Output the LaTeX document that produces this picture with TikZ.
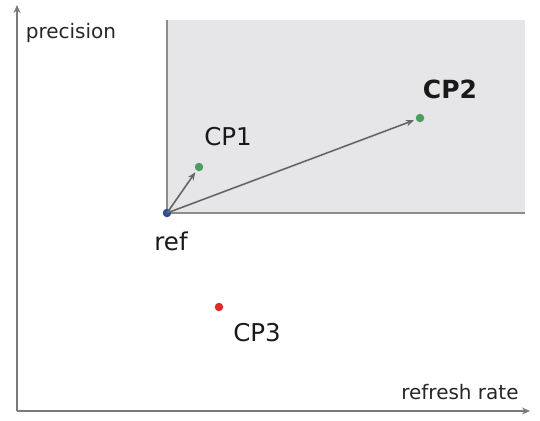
\documentclass[tikz,border=0pt]{standalone}
\usepackage{fontspec}
\setmainfont{DejaVu Sans}
\usetikzlibrary{arrows.meta}
\definecolor{axisgray}{HTML}{7A7A7A}
\definecolor{boxfill}{HTML}{E6E6E8}
\definecolor{boxedge}{HTML}{8C8C8C}
\definecolor{arrgray}{HTML}{666666}
\definecolor{dotblue}{HTML}{2B4C9B}
\definecolor{dotgreen}{HTML}{4C9E5E}
\definecolor{dotred}{HTML}{DD2A2A}
\tikzset{
  axisline/.style={draw=axisgray, line width=1.7pt, -{Stealth[length=8pt,width=7pt]}},
  vecline/.style={draw=arrgray, line width=1.6pt, -{Stealth[length=8pt,width=6.5pt]}, shorten >=2pt},
  dotnode/.style={circle, inner sep=0pt, minimum size=8.5pt},
  axlabel/.style={font=\fontsize{20}{22}\selectfont, text=black!85, inner sep=0pt},
  ptlabel/.style={font=\fontsize{24.5}{26}\selectfont, text=black!90, inner sep=0pt}
}
\begin{document}
\begin{tikzpicture}[x=1pt,y=-1pt]
\useasboundingbox (0,0) rectangle (540,420);
% shaded region
\fill[boxfill] (167,20) rectangle (525,213);
\draw[boxedge, line width=1.6pt] (167,20) -- (167,213) -- (525,213);
% axes
\coordinate (origin) at (17,411);
\coordinate (ytip) at (17,5);
\coordinate (xtip) at (530,411);
\draw[axisline] (origin) -- (ytip);
\draw[axisline] (origin) -- (xtip);
% points
\node[dotnode, fill=dotblue] (ref) at (167,213) {};
\node[dotnode, fill=dotgreen] (cp1) at (199,167) {};
\node[dotnode, fill=dotgreen] (cp2) at (420,118) {};
\node[dotnode, fill=dotred] (cp3) at (219,307) {};
% vectors
\draw[vecline] (ref.center) -- (cp1);
\draw[vecline] (ref.center) -- (cp2);
% labels
\node[axlabel] (lprec) at (71,33) {precision};
\node[axlabel] (lrate) at (460,392) {refresh rate};
\node[ptlabel] (lref) at (171,241) {ref};
\node[ptlabel] (lcp1) at (228,137) {CP1};
\node[ptlabel, font=\fontsize{25}{27}\selectfont\bfseries] (lcp2) at (450,89) {CP2};
\node[ptlabel] (lcp3) at (257,333) {CP3};
\end{tikzpicture}
\end{document}
